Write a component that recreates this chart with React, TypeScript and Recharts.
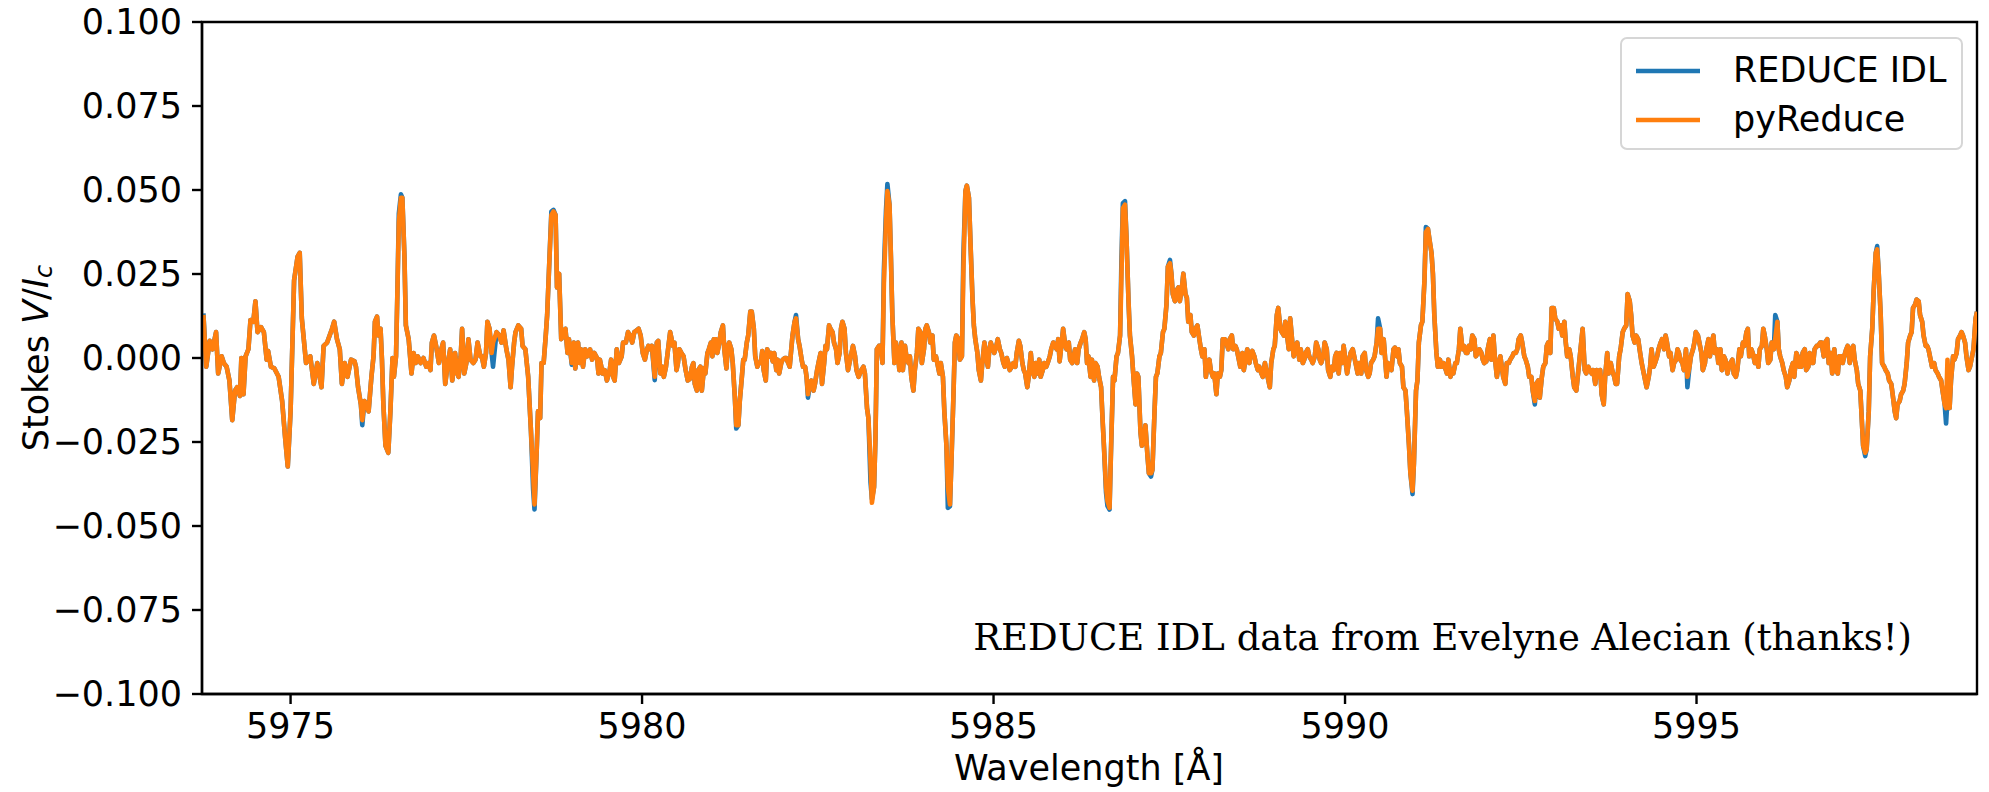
import React from "react";
import { LineChart, Line, XAxis, YAxis, ReferenceArea, Legend, Customized } from "recharts";

// wavelength grid (Å)
const wavelength = [
  5973.76, 5973.80, 5973.85, 5973.89, 5973.94, 5973.97, 5974.02, 5974.05, 5974.09, 5974.13,
  5974.17, 5974.21, 5974.24, 5974.28, 5974.30, 5974.33, 5974.36, 5974.40, 5974.43, 5974.47,
  5974.50, 5974.53, 5974.58, 5974.62, 5974.66, 5974.68, 5974.72, 5974.77, 5974.83, 5974.88,
  5974.92, 5974.96, 5975.00, 5975.05, 5975.10, 5975.13, 5975.16, 5975.22, 5975.28, 5975.33,
  5975.38, 5975.44, 5975.47, 5975.52, 5975.59, 5975.62, 5975.66, 5975.70, 5975.73, 5975.77,
  5975.81, 5975.86, 5975.91, 5975.93, 5975.96, 5976.00, 5976.02, 5976.05, 5976.08, 5976.11,
  5976.15, 5976.18, 5976.20, 5976.23, 5976.25, 5976.28, 5976.30, 5976.32, 5976.35, 5976.39,
  5976.42, 5976.45, 5976.47, 5976.50, 5976.52, 5976.54, 5976.57, 5976.59, 5976.62, 5976.64,
  5976.68, 5976.72, 5976.75, 5976.78, 5976.81, 5976.85, 5976.89, 5976.93, 5976.96, 5976.99,
  5977.01, 5977.04, 5977.07, 5977.11, 5977.13, 5977.17, 5977.20, 5977.23, 5977.27, 5977.30,
  5977.34, 5977.37, 5977.39, 5977.42, 5977.44, 5977.47, 5977.50, 5977.53, 5977.56, 5977.60,
  5977.63, 5977.66, 5977.70, 5977.72, 5977.75, 5977.78, 5977.80, 5977.83, 5977.86, 5977.88,
  5977.93, 5977.97, 5978.00, 5978.03, 5978.07, 5978.10, 5978.13, 5978.15, 5978.18, 5978.20,
  5978.24, 5978.28, 5978.30, 5978.34, 5978.38, 5978.40, 5978.42, 5978.45, 5978.47, 5978.50,
  5978.52, 5978.55, 5978.57, 5978.60, 5978.63, 5978.65, 5978.68, 5978.71, 5978.74, 5978.77,
  5978.79, 5978.82, 5978.85, 5978.88, 5978.91, 5978.94, 5978.96, 5979.00, 5979.03, 5979.05,
  5979.09, 5979.11, 5979.13, 5979.16, 5979.19, 5979.22, 5979.26, 5979.29, 5979.32, 5979.36,
  5979.38, 5979.40, 5979.44, 5979.47, 5979.50, 5979.54, 5979.56, 5979.59, 5979.61, 5979.64,
  5979.67, 5979.71, 5979.73, 5979.77, 5979.80, 5979.83, 5979.86, 5979.89, 5979.92, 5979.95,
  5979.98, 5980.01,
  5980.04, 5980.07, 5980.09, 5980.12, 5980.14, 5980.18, 5980.21, 5980.23, 5980.26, 5980.29,
  5980.31, 5980.34, 5980.37, 5980.40, 5980.44, 5980.46, 5980.49, 5980.51, 5980.53, 5980.56,
  5980.59, 5980.62, 5980.65, 5980.68, 5980.71, 5980.73, 5980.75, 5980.78, 5980.80, 5980.83,
  5980.85, 5980.88, 5980.90, 5980.93, 5980.95, 5980.98, 5981.00, 5981.02, 5981.05, 5981.07,
  5981.10, 5981.12, 5981.15, 5981.17, 5981.20, 5981.22, 5981.24, 5981.27, 5981.29, 5981.32,
  5981.34, 5981.37, 5981.39, 5981.42, 5981.44, 5981.46, 5981.49, 5981.51, 5981.54, 5981.56,
  5981.59, 5981.61, 5981.64, 5981.66, 5981.69, 5981.71, 5981.73, 5981.76, 5981.78, 5981.81,
  5981.83, 5981.86, 5981.88, 5981.91, 5981.93, 5981.95, 5981.98, 5982.00, 5982.03, 5982.05,
  5982.08, 5982.10,
  5982.14, 5982.17, 5982.19, 5982.22, 5982.24, 5982.27, 5982.29, 5982.32, 5982.34, 5982.36,
  5982.39, 5982.41, 5982.44, 5982.46, 5982.49, 5982.51, 5982.54, 5982.56, 5982.59, 5982.61,
  5982.63, 5982.66, 5982.68, 5982.71, 5982.73, 5982.76, 5982.78, 5982.81, 5982.83, 5982.85,
  5982.88, 5982.90, 5982.93, 5982.95, 5982.98, 5983.00, 5983.03, 5983.05, 5983.08, 5983.10,
  5983.12, 5983.15, 5983.17, 5983.20, 5983.22, 5983.25, 5983.27, 5983.30, 5983.32, 5983.34,
  5983.37, 5983.39, 5983.42, 5983.44, 5983.47, 5983.49, 5983.52, 5983.54, 5983.56, 5983.59,
  5983.61, 5983.64, 5983.66, 5983.69, 5983.71, 5983.74, 5983.76, 5983.79, 5983.81, 5983.83,
  5983.86, 5983.88, 5983.91, 5983.93, 5983.96, 5983.98, 5984.01, 5984.03, 5984.05, 5984.08,
  5984.10, 5984.13, 5984.15, 5984.18, 5984.20, 5984.23,
  5984.25, 5984.28, 5984.30, 5984.33, 5984.35, 5984.38, 5984.40, 5984.43, 5984.45, 5984.47,
  5984.50, 5984.52, 5984.55, 5984.57, 5984.60, 5984.62, 5984.65, 5984.67, 5984.70, 5984.72,
  5984.74, 5984.77, 5984.79, 5984.82, 5984.84, 5984.87, 5984.89, 5984.92, 5984.94, 5984.96,
  5984.99, 5985.01, 5985.04, 5985.06, 5985.09, 5985.11, 5985.14, 5985.16, 5985.19, 5985.21,
  5985.23, 5985.26, 5985.28, 5985.31, 5985.33, 5985.36, 5985.38, 5985.41, 5985.43, 5985.45,
  5985.48, 5985.50, 5985.53, 5985.55, 5985.58, 5985.60, 5985.63, 5985.65, 5985.67, 5985.70,
  5985.72, 5985.75, 5985.77, 5985.80, 5985.82, 5985.85, 5985.87, 5985.90, 5985.92, 5985.94,
  5985.97, 5985.99, 5986.02, 5986.04, 5986.07, 5986.09, 5986.12, 5986.14, 5986.16, 5986.19,
  5986.21, 5986.24, 5986.26, 5986.29, 5986.31,
  5986.33, 5986.35, 5986.38, 5986.40, 5986.43, 5986.45, 5986.48, 5986.50, 5986.53, 5986.55,
  5986.57, 5986.60, 5986.62, 5986.65, 5986.67, 5986.70, 5986.72, 5986.75, 5986.77, 5986.80,
  5986.82, 5986.84, 5986.87, 5986.89, 5986.92, 5986.94, 5986.97, 5986.99, 5987.02, 5987.04,
  5987.06, 5987.09, 5987.11, 5987.14, 5987.16, 5987.19, 5987.21, 5987.24, 5987.26, 5987.29,
  5987.31, 5987.33, 5987.36, 5987.38, 5987.41, 5987.43, 5987.46, 5987.48, 5987.51, 5987.53,
  5987.55, 5987.58, 5987.60, 5987.63, 5987.65, 5987.68, 5987.70, 5987.73, 5987.75, 5987.77,
  5987.80, 5987.82, 5987.85, 5987.87, 5987.90, 5987.92, 5987.95, 5987.97, 5988.00, 5988.02,
  5988.04, 5988.07, 5988.09, 5988.12, 5988.14, 5988.17, 5988.19, 5988.22, 5988.24, 5988.26,
  5988.29, 5988.31, 5988.34, 5988.36, 5988.39, 5988.41, 5988.44,
  5988.46, 5988.49, 5988.51, 5988.54, 5988.56, 5988.59, 5988.61, 5988.64, 5988.66, 5988.68,
  5988.71, 5988.73, 5988.76, 5988.78, 5988.81, 5988.83, 5988.86, 5988.88, 5988.91, 5988.93,
  5988.95, 5988.98, 5989.00, 5989.03, 5989.05, 5989.08, 5989.10, 5989.13, 5989.15, 5989.17,
  5989.20, 5989.22, 5989.25, 5989.27, 5989.30, 5989.32, 5989.35, 5989.37, 5989.40, 5989.42,
  5989.44, 5989.47, 5989.49, 5989.52, 5989.54, 5989.57, 5989.59, 5989.62, 5989.64, 5989.66,
  5989.69, 5989.71, 5989.74, 5989.76, 5989.79, 5989.81, 5989.84, 5989.86, 5989.88, 5989.91,
  5989.93, 5989.96, 5989.98, 5990.01, 5990.03, 5990.06, 5990.08, 5990.11, 5990.13, 5990.15,
  5990.18, 5990.20, 5990.23, 5990.25, 5990.28, 5990.30, 5990.33, 5990.35, 5990.37, 5990.40,
  5990.42, 5990.45, 5990.47, 5990.50, 5990.52, 5990.55,
  5990.59, 5990.61, 5990.64, 5990.66, 5990.69, 5990.71, 5990.74, 5990.76, 5990.78, 5990.81,
  5990.83, 5990.86, 5990.88, 5990.91, 5990.93, 5990.96, 5990.98, 5991.01, 5991.03, 5991.05,
  5991.08, 5991.10, 5991.13, 5991.15, 5991.18, 5991.20, 5991.23, 5991.25, 5991.27, 5991.30,
  5991.32, 5991.35, 5991.37, 5991.40, 5991.42, 5991.45, 5991.47, 5991.50, 5991.52, 5991.54,
  5991.57, 5991.59, 5991.62, 5991.64, 5991.67, 5991.69, 5991.72, 5991.74, 5991.76, 5991.79,
  5991.81, 5991.84, 5991.86, 5991.89, 5991.91, 5991.94, 5991.96, 5991.98, 5992.01, 5992.03,
  5992.06, 5992.08, 5992.11, 5992.13, 5992.16, 5992.18, 5992.21, 5992.23, 5992.25, 5992.28,
  5992.30, 5992.33, 5992.35, 5992.38, 5992.40, 5992.43, 5992.45, 5992.47, 5992.50, 5992.52,
  5992.55, 5992.57, 5992.60, 5992.62, 5992.65,
  5992.67, 5992.70, 5992.72, 5992.75, 5992.77, 5992.80, 5992.82, 5992.85, 5992.87, 5992.89,
  5992.92, 5992.94, 5992.97, 5992.99, 5993.02, 5993.04, 5993.07, 5993.09, 5993.12, 5993.14,
  5993.16, 5993.19, 5993.21, 5993.24, 5993.26, 5993.29, 5993.31, 5993.34, 5993.36, 5993.38,
  5993.41, 5993.43, 5993.46, 5993.48, 5993.51, 5993.53, 5993.56, 5993.58, 5993.61, 5993.63,
  5993.65, 5993.68, 5993.70, 5993.73, 5993.75, 5993.78, 5993.80, 5993.83, 5993.85, 5993.87,
  5993.90, 5993.92, 5993.95, 5993.97, 5994.00, 5994.02, 5994.05, 5994.07, 5994.09, 5994.12,
  5994.14, 5994.17, 5994.19, 5994.22, 5994.24, 5994.27, 5994.29, 5994.32, 5994.34, 5994.36,
  5994.39, 5994.41, 5994.44, 5994.46, 5994.49, 5994.51, 5994.54, 5994.56, 5994.58, 5994.61,
  5994.63, 5994.66, 5994.68, 5994.71, 5994.73,
  5994.75, 5994.77, 5994.80, 5994.82, 5994.85, 5994.87, 5994.90, 5994.92, 5994.95, 5994.97,
  5994.99, 5995.02, 5995.04, 5995.07, 5995.09, 5995.12, 5995.14, 5995.17, 5995.19, 5995.22,
  5995.24, 5995.26, 5995.29, 5995.31, 5995.34, 5995.36, 5995.39, 5995.41, 5995.44, 5995.46,
  5995.48, 5995.51, 5995.53, 5995.56, 5995.58, 5995.61, 5995.63, 5995.66, 5995.68, 5995.71,
  5995.73, 5995.75, 5995.78, 5995.80, 5995.83, 5995.85, 5995.88, 5995.90, 5995.93, 5995.95,
  5995.97, 5996.00, 5996.02, 5996.05, 5996.07, 5996.10, 5996.12, 5996.15, 5996.17, 5996.19,
  5996.22, 5996.24, 5996.27, 5996.29, 5996.32, 5996.34, 5996.37, 5996.39, 5996.42, 5996.44,
  5996.46, 5996.49, 5996.51, 5996.54, 5996.56, 5996.59, 5996.61, 5996.64, 5996.66, 5996.68,
  5996.71, 5996.73, 5996.76, 5996.78, 5996.81, 5996.83, 5996.86,
  5996.88, 5996.91, 5996.93, 5996.96, 5996.98, 5997.01, 5997.03, 5997.06, 5997.08, 5997.10,
  5997.13, 5997.15, 5997.18, 5997.20, 5997.23, 5997.25, 5997.28, 5997.30, 5997.33, 5997.35,
  5997.37, 5997.40, 5997.42, 5997.45, 5997.47, 5997.50, 5997.52, 5997.55, 5997.57, 5997.59,
  5997.62, 5997.64, 5997.67, 5997.69, 5997.72, 5997.74, 5997.77, 5997.79, 5997.82, 5997.84,
  5997.86, 5997.89, 5997.91, 5997.94, 5997.96, 5997.99, 5998.01, 5998.04, 5998.06, 5998.08,
  5998.11, 5998.13, 5998.16, 5998.18, 5998.21, 5998.23, 5998.26, 5998.28, 5998.30, 5998.33,
  5998.35, 5998.38, 5998.40, 5998.43, 5998.45, 5998.48, 5998.50, 5998.53, 5998.55, 5998.57,
  5998.60, 5998.62, 5998.65, 5998.67, 5998.70, 5998.72, 5998.75, 5998.77, 5998.79, 5998.82,
  5998.84, 5998.87, 5998.89, 5998.92, 5998.94, 5998.97, 5998.99,
];

// Stokes V/Ic, REDUCE IDL reduction
const reduceIdl = [
  0.0133, -0.0026, 0.0051, 0.0026, 0.0077, -0.0046, 0.0005, -0.0015, -0.0026, -0.0067,
  -0.0185, -0.0097, -0.0087, -0.0113, 0.0000, -0.0108, 0.0005, 0.0026, 0.0113, 0.0108,
  0.0169, 0.0077, 0.0092, 0.0077, -0.0005, 0.0021, -0.0026, -0.0031, -0.0056, -0.0128,
  -0.0231, -0.0323, -0.0159, 0.0231, 0.0302, 0.0313, 0.0118, -0.0015, 0.0005, -0.0077,
  -0.0015, -0.0087, 0.0036, 0.0046, 0.0087, 0.0108, 0.0056, 0.0026, -0.0077, -0.0015,
  -0.0056, -0.0005, -0.0010, -0.0026, -0.0087, -0.0138, -0.0200, -0.0128, -0.0138, -0.0159,
  -0.0056, 0.0005, 0.0108, 0.0123, 0.0067, 0.0087, -0.0005, -0.0138, -0.0261, -0.0282,
  -0.0159, 0.0000, -0.0056, 0.0005, 0.0200, 0.0430, 0.0487, 0.0477, 0.0302, 0.0097,
  0.0056, -0.0046, 0.0015, -0.0015, 0.0005, -0.0015, 0.0000, -0.0026, -0.0015, -0.0036,
  0.0046, 0.0067, 0.0036, -0.0015, 0.0015, 0.0046, -0.0077, -0.0026, 0.0026, -0.0067,
  0.0015, -0.0046, -0.0056, 0.0005, 0.0087, -0.0046, -0.0015, 0.0056, -0.0005, -0.0015,
  -0.0005, 0.0046, 0.0005, 0.0005, -0.0026, 0.0015, 0.0108, 0.0087, 0.0015, -0.0026,
  0.0077, 0.0067, 0.0046, 0.0082, 0.0026, -0.0005, -0.0087, -0.0026, 0.0046, 0.0077,
  0.0097, 0.0087, 0.0036, 0.0026, -0.0056, -0.0138, -0.0220, -0.0390, -0.0451, -0.0282,
  -0.0159, -0.0179, -0.0015, -0.0015, 0.0067, 0.0128, 0.0282, 0.0436, 0.0441, 0.0425,
  0.0210, 0.0251, 0.0056, 0.0067, 0.0087, 0.0015, 0.0056, -0.0020, 0.0046, -0.0031,
  0.0046, -0.0015, 0.0026, -0.0026, 0.0026, 0.0005, 0.0026, -0.0005, 0.0015, 0.0000,
  -0.0046, -0.0005, -0.0046, -0.0036, -0.0067, -0.0036, -0.0005, -0.0056, -0.0067, 0.0026,
  -0.0015, 0.0005, 0.0046, 0.0046, 0.0077, 0.0067, 0.0046, 0.0077, 0.0082, 0.0087,
  0.0067, 0.0015,
  -0.0005, 0.0026, 0.0036, 0.0026, 0.0036, -0.0066, 0.0046, 0.0051, -0.0046, -0.0026,
  -0.0056, -0.0026, 0.0026, 0.0077, 0.0036, 0.0046, -0.0036, -0.0015, 0.0026, 0.0015,
  0.0005, -0.0036, -0.0067, -0.0062, -0.0026, -0.0015, -0.0077, -0.0097, -0.0036, -0.0026,
  -0.0097, -0.0031, -0.0046, 0.0015, 0.0026, 0.0046, 0.0005, 0.0056, 0.0056, 0.0015,
  0.0046, 0.0077, 0.0097, 0.0026, -0.0031, 0.0036, 0.0046, 0.0026, -0.0015, -0.0118,
  -0.0210, -0.0200, -0.0128, -0.0056, -0.0005, -0.0005, 0.0046, 0.0067, 0.0138, 0.0138,
  0.0087, 0.0005, -0.0026, -0.0015, -0.0015, 0.0021, -0.0036, -0.0067, 0.0026, 0.0005,
  0.0015, -0.0010, 0.0015, -0.0036, -0.0005, -0.0046, -0.0015, -0.0005, 0.0000, 0.0000,
  -0.0015, -0.0026,
  0.0067, 0.0108, 0.0128, 0.0056, 0.0036, -0.0005, -0.0026, -0.0026, -0.0056, -0.0118,
  -0.0077, -0.0067, -0.0097, -0.0077, -0.0036, -0.0015, 0.0015, -0.0077, -0.0015, 0.0036,
  0.0026, 0.0097, 0.0087, 0.0077, 0.0046, 0.0026, -0.0015, 0.0015, 0.0087, 0.0108,
  0.0087, 0.0015, -0.0036, -0.0015, 0.0015, 0.0036, 0.0005, -0.0036, -0.0056, -0.0046,
  -0.0036, -0.0026, -0.0046, -0.0149, -0.0179, -0.0370, -0.0420, -0.0384, -0.0241, 0.0026,
  0.0036, 0.0036, -0.0015, 0.0260, 0.0440, 0.0518, 0.0456, 0.0302, 0.0128, -0.0015,
  0.0046, 0.0015, -0.0036, 0.0046, -0.0036, 0.0036, 0.0005, -0.0015, 0.0005, -0.0056,
  -0.0097, -0.0036, 0.0015, 0.0087, 0.0077, -0.0015, 0.0026, 0.0087, 0.0097, 0.0077,
  0.0046, 0.0067, -0.0005, 0.0005, -0.0015, -0.0046,
  -0.0015, -0.0056, -0.0159, -0.0261, -0.0446, -0.0441, -0.0313, -0.0108, 0.0046, 0.0067,
  0.0056, -0.0005, 0.0005, 0.0300, 0.0497, 0.0513, 0.0477, 0.0354, 0.0179, 0.0097,
  0.0056, 0.0015, -0.0036, -0.0067, -0.0015, 0.0046, 0.0005, -0.0026, 0.0026, 0.0046,
  0.0026, 0.0015, 0.0036, 0.0056, 0.0026, 0.0015, -0.0015, -0.0026, 0.0000, -0.0015,
  -0.0036, -0.0026, -0.0015, -0.0026, 0.0015, 0.0051, 0.0036, -0.0015, -0.0036, -0.0046,
  -0.0087, -0.0056, 0.0015, -0.0036, -0.0056, -0.0015, -0.0046, -0.0005, -0.0056, -0.0036,
  -0.0015, -0.0026, -0.0015, 0.0005, 0.0026, 0.0046, 0.0036, 0.0026, 0.0056, -0.0010,
  0.0046, 0.0087, 0.0036, 0.0026, 0.0046, -0.0005, -0.0015, 0.0005, 0.0026, -0.0015,
  0.0026, 0.0046, 0.0056, 0.0077, 0.0056,
  -0.0015, 0.0005, -0.0056, -0.0005, -0.0067, -0.0015, -0.0026, -0.0056, -0.0087, -0.0179,
  -0.0261, -0.0400, -0.0440, -0.0451, -0.0282, -0.0056, -0.0067, 0.0005, 0.0015, 0.0067,
  0.0300, 0.0461, 0.0467, 0.0364, 0.0169, 0.0067, 0.0005, -0.0056, -0.0138, -0.0046,
  -0.0056, -0.0220, -0.0261, -0.0241, -0.0200, -0.0292, -0.0343, -0.0353, -0.0333, -0.0159,
  -0.0056, -0.0046, 0.0005, 0.0015, 0.0077, 0.0087, 0.0159, 0.0272, 0.0292, 0.0251,
  0.0190, 0.0169, 0.0200, 0.0210, 0.0169, 0.0210, 0.0251, 0.0190, 0.0179, 0.0108,
  0.0128, 0.0077, 0.0067, 0.0087, 0.0097, 0.0067, 0.0026, 0.0005, 0.0026, -0.0056,
  -0.0026, -0.0005, -0.0036, -0.0056, -0.0046, -0.0108, -0.0046, -0.0056, -0.0036, 0.0056,
  0.0056, 0.0046, 0.0026, 0.0056, 0.0067, 0.0026, 0.0036,
  0.0026, -0.0005, -0.0026, 0.0015, -0.0036, 0.0005, 0.0026, -0.0015, 0.0015, 0.0021,
  0.0005, -0.0015, -0.0036, -0.0026, -0.0046, -0.0056, -0.0015, -0.0036, -0.0067, -0.0087,
  -0.0015, 0.0026, 0.0036, 0.0128, 0.0149, 0.0087, 0.0077, 0.0067, 0.0108, 0.0077,
  0.0026, 0.0118, 0.0046, 0.0005, 0.0036, 0.0046, -0.0005, 0.0026, -0.0015, -0.0005,
  0.0015, 0.0026, 0.0005, -0.0005, -0.0015, 0.0005, 0.0046, 0.0026, -0.0005, -0.0015,
  0.0005, 0.0046, 0.0026, -0.0036, -0.0056, -0.0026, -0.0036, 0.0005, 0.0015, -0.0046,
  0.0015, -0.0015, 0.0036, -0.0015, -0.0046, -0.0005, 0.0015, 0.0026, 0.0005, -0.0015,
  -0.0046, -0.0015, -0.0046, 0.0005, 0.0015, -0.0036, -0.0056, -0.0046, -0.0015, -0.0005,
  0.0005, 0.0046, 0.0118, 0.0087, 0.0015, 0.0056,
  -0.0056, -0.0015, -0.0026, -0.0036, 0.0026, 0.0031, 0.0005, 0.0026, -0.0015, -0.0026,
  -0.0087, -0.0097, -0.0159, -0.0261, -0.0343, -0.0405, -0.0313, -0.0097, -0.0067, 0.0046,
  0.0097, 0.0108, 0.0231, 0.0390, 0.0384, 0.0354, 0.0313, 0.0251, 0.0128, 0.0015,
  -0.0026, -0.0005, -0.0026, -0.0015, -0.0026, -0.0046, -0.0005, -0.0056, -0.0036, -0.0046,
  -0.0015, -0.0015, 0.0026, 0.0087, 0.0026, 0.0036, 0.0015, 0.0015, 0.0036, 0.0026,
  0.0067, 0.0056, 0.0005, 0.0015, 0.0026, 0.0015, -0.0005, -0.0015, -0.0010, 0.0026,
  0.0056, -0.0005, 0.0067, 0.0005, -0.0056, -0.0026, 0.0005, -0.0026, -0.0056, -0.0077,
  -0.0015, -0.0015, -0.0005, 0.0005, 0.0015, 0.0015, 0.0026, 0.0056, 0.0067, 0.0046,
  0.0005, -0.0005, -0.0026, -0.0056, -0.0056,
  -0.0097, -0.0138, -0.0077, -0.0067, -0.0118, -0.0056, -0.0026, -0.0015, 0.0036, 0.0046,
  0.0015, 0.0149, 0.0149, 0.0118, 0.0108, 0.0087, 0.0097, 0.0067, 0.0108, 0.0046,
  0.0005, 0.0026, 0.0005, -0.0056, -0.0087, -0.0097, -0.0056, 0.0005, 0.0046, 0.0087,
  -0.0036, -0.0046, -0.0026, -0.0036, -0.0046, -0.0036, -0.0077, -0.0036, -0.0056, -0.0036,
  -0.0108, -0.0138, -0.0056, 0.0015, -0.0046, -0.0015, -0.0036, -0.0056, -0.0077, -0.0077,
  0.0005, 0.0026, 0.0077, 0.0087, 0.0097, 0.0190, 0.0169, 0.0128, 0.0067, 0.0046,
  0.0067, 0.0056, 0.0026, -0.0015, -0.0036, -0.0067, -0.0087, -0.0056, -0.0026, 0.0026,
  -0.0026, -0.0015, 0.0005, 0.0026, 0.0046, 0.0056, 0.0026, 0.0067, 0.0046, 0.0005,
  0.0015, -0.0036, -0.0015, -0.0005, 0.0026,
  0.0015, -0.0005, -0.0015, -0.0036, 0.0026, -0.0087, -0.0026, 0.0005, 0.0026, 0.0046,
  0.0077, 0.0067, 0.0046, 0.0015, -0.0036, -0.0015, 0.0026, 0.0056, 0.0005, 0.0046,
  0.0067, 0.0015, 0.0026, -0.0015, 0.0026, -0.0036, 0.0005, -0.0005, -0.0046, -0.0026,
  -0.0015, -0.0005, -0.0046, -0.0056, -0.0036, 0.0026, 0.0005, 0.0046, 0.0036, 0.0077,
  0.0087, 0.0005, 0.0026, 0.0015, -0.0015, 0.0005, -0.0026, 0.0026, 0.0036, 0.0087,
  0.0067, 0.0026, -0.0015, -0.0005, 0.0046, 0.0026, 0.0128, 0.0108, 0.0026, 0.0005,
  -0.0015, -0.0036, -0.0056, -0.0087, -0.0067, -0.0036, -0.0015, -0.0056, 0.0015, 0.0005,
  -0.0026, -0.0026, 0.0015, 0.0026, -0.0036, -0.0026, 0.0015, -0.0015, -0.0015, 0.0026,
  0.0036, 0.0036, 0.0046, 0.0046, 0.0005, 0.0046, 0.0056,
  -0.0015, 0.0015, -0.0046, 0.0026, -0.0036, -0.0046, 0.0005, 0.0005, -0.0015, 0.0005,
  0.0026, 0.0036, -0.0015, 0.0026, 0.0036, -0.0005, -0.0036, -0.0077, -0.0097, -0.0179,
  -0.0261, -0.0292, -0.0272, -0.0159, 0.0005, 0.0087, 0.0200, 0.0313, 0.0333, 0.0261,
  0.0128, -0.0015, -0.0026, -0.0036, -0.0046, -0.0067, -0.0077, -0.0108, -0.0159, -0.0179,
  -0.0138, -0.0128, -0.0108, -0.0097, -0.0077, -0.0015, 0.0046, 0.0067, 0.0077, 0.0149,
  0.0159, 0.0174, 0.0169, 0.0128, 0.0108, 0.0067, 0.0036, 0.0036, 0.0026, -0.0005,
  -0.0026, -0.0015, -0.0036, -0.0046, -0.0056, -0.0067, -0.0097, -0.0138, -0.0195, -0.0120,
  -0.0149, -0.0067, 0.0005, -0.0005, 0.0015, 0.0056, 0.0067, 0.0077, 0.0067, 0.0046,
  0.0005, -0.0036, -0.0026, 0.0005, 0.0026, 0.0118, 0.0138,
];

// Stokes V/Ic, pyReduce reduction
const pyReduce = [
  0.0128, -0.0026, 0.0051, 0.0026, 0.0077, -0.0046, 0.0005, -0.0015, -0.0026, -0.0067,
  -0.0185, -0.0097, -0.0087, -0.0113, 0.0000, -0.0108, 0.0005, 0.0026, 0.0113, 0.0108,
  0.0169, 0.0077, 0.0092, 0.0077, -0.0005, 0.0021, -0.0026, -0.0031, -0.0056, -0.0128,
  -0.0231, -0.0323, -0.0159, 0.0231, 0.0302, 0.0313, 0.0118, -0.0015, 0.0005, -0.0077,
  -0.0015, -0.0087, 0.0036, 0.0046, 0.0087, 0.0108, 0.0056, 0.0026, -0.0077, -0.0015,
  -0.0056, -0.0005, -0.0010, -0.0026, -0.0087, -0.0138, -0.0185, -0.0128, -0.0138, -0.0159,
  -0.0056, 0.0005, 0.0108, 0.0123, 0.0067, 0.0087, -0.0005, -0.0138, -0.0261, -0.0282,
  -0.0159, 0.0000, -0.0056, 0.0005, 0.0200, 0.0405, 0.0477, 0.0477, 0.0302, 0.0097,
  0.0056, -0.0046, 0.0015, -0.0015, 0.0005, -0.0015, 0.0000, -0.0026, -0.0015, -0.0036,
  0.0046, 0.0067, 0.0036, -0.0015, 0.0015, 0.0046, -0.0077, -0.0026, 0.0026, -0.0067,
  0.0015, -0.0046, -0.0056, 0.0005, 0.0087, -0.0046, -0.0015, 0.0056, -0.0005, -0.0015,
  -0.0005, 0.0046, 0.0005, 0.0005, -0.0026, 0.0015, 0.0108, 0.0087, 0.0015, 0.0046,
  0.0077, 0.0067, 0.0046, 0.0082, 0.0026, -0.0005, -0.0087, -0.0026, 0.0046, 0.0077,
  0.0097, 0.0087, 0.0036, 0.0026, -0.0056, -0.0138, -0.0220, -0.0343, -0.0436, -0.0282,
  -0.0159, -0.0179, -0.0015, -0.0015, 0.0067, 0.0128, 0.0282, 0.0425, 0.0436, 0.0425,
  0.0210, 0.0251, 0.0056, 0.0067, 0.0087, 0.0015, 0.0056, -0.0015, 0.0046, -0.0031,
  0.0046, -0.0015, 0.0026, -0.0026, 0.0026, 0.0005, 0.0026, -0.0005, 0.0015, 0.0000,
  -0.0046, -0.0005, -0.0046, -0.0036, -0.0067, -0.0036, -0.0005, -0.0056, -0.0067, 0.0026,
  -0.0015, 0.0005, 0.0046, 0.0046, 0.0077, 0.0067, 0.0046, 0.0077, 0.0082, 0.0087,
  0.0067, 0.0015,
  -0.0005, 0.0026, 0.0036, 0.0026, 0.0036, -0.0056, 0.0046, 0.0051, -0.0046, -0.0026,
  -0.0056, -0.0026, 0.0026, 0.0077, 0.0036, 0.0046, -0.0036, -0.0015, 0.0026, 0.0015,
  0.0005, -0.0036, -0.0067, -0.0062, -0.0026, -0.0015, -0.0077, -0.0097, -0.0036, -0.0026,
  -0.0097, -0.0031, -0.0046, 0.0015, 0.0026, 0.0046, 0.0005, 0.0056, 0.0056, 0.0015,
  0.0046, 0.0077, 0.0097, 0.0026, -0.0031, 0.0036, 0.0046, 0.0026, -0.0015, -0.0118,
  -0.0200, -0.0200, -0.0128, -0.0056, -0.0005, -0.0005, 0.0046, 0.0067, 0.0138, 0.0138,
  0.0087, 0.0005, -0.0026, -0.0015, -0.0015, 0.0021, -0.0036, -0.0067, 0.0026, 0.0005,
  0.0015, -0.0010, 0.0015, -0.0036, -0.0005, -0.0046, -0.0015, -0.0005, 0.0000, 0.0000,
  -0.0015, -0.0026,
  0.0067, 0.0108, 0.0118, 0.0056, 0.0036, -0.0005, -0.0026, -0.0026, -0.0056, -0.0108,
  -0.0077, -0.0067, -0.0097, -0.0077, -0.0036, -0.0015, 0.0015, -0.0077, -0.0015, 0.0036,
  0.0026, 0.0097, 0.0087, 0.0077, 0.0046, 0.0026, -0.0015, 0.0015, 0.0087, 0.0108,
  0.0087, 0.0015, -0.0036, -0.0015, 0.0015, 0.0036, 0.0005, -0.0036, -0.0056, -0.0046,
  -0.0036, -0.0026, -0.0046, -0.0149, -0.0179, -0.0313, -0.0431, -0.0384, -0.0241, 0.0026,
  0.0036, 0.0036, -0.0015, 0.0220, 0.0405, 0.0497, 0.0456, 0.0302, 0.0128, -0.0015,
  0.0046, 0.0015, -0.0036, 0.0046, -0.0036, 0.0036, 0.0005, -0.0015, 0.0005, -0.0056,
  -0.0097, -0.0036, 0.0015, 0.0087, 0.0077, -0.0015, 0.0026, 0.0087, 0.0097, 0.0077,
  0.0046, 0.0067, -0.0005, 0.0005, -0.0015, -0.0046,
  -0.0015, -0.0056, -0.0159, -0.0261, -0.0384, -0.0436, -0.0313, -0.0108, 0.0046, 0.0067,
  0.0056, -0.0005, 0.0005, 0.0251, 0.0497, 0.0513, 0.0477, 0.0354, 0.0179, 0.0097,
  0.0056, 0.0015, -0.0036, -0.0067, -0.0015, 0.0046, 0.0005, -0.0026, 0.0026, 0.0046,
  0.0026, 0.0015, 0.0036, 0.0056, 0.0026, 0.0015, -0.0015, -0.0026, 0.0000, -0.0015,
  -0.0036, -0.0026, -0.0015, -0.0026, 0.0015, 0.0051, 0.0036, -0.0015, -0.0036, -0.0046,
  -0.0087, -0.0056, 0.0015, -0.0036, -0.0056, -0.0015, -0.0046, -0.0005, -0.0056, -0.0036,
  -0.0015, -0.0026, -0.0015, 0.0005, 0.0026, 0.0046, 0.0036, 0.0026, 0.0056, -0.0010,
  0.0046, 0.0087, 0.0036, 0.0026, 0.0046, -0.0005, -0.0015, 0.0005, 0.0026, -0.0015,
  0.0026, 0.0046, 0.0056, 0.0077, 0.0056,
  -0.0015, 0.0005, -0.0056, -0.0005, -0.0067, -0.0015, -0.0026, -0.0056, -0.0087, -0.0179,
  -0.0261, -0.0384, -0.0425, -0.0446, -0.0282, -0.0056, -0.0067, 0.0005, 0.0015, 0.0067,
  0.0251, 0.0446, 0.0456, 0.0364, 0.0169, 0.0067, 0.0005, -0.0056, -0.0138, -0.0046,
  -0.0056, -0.0220, -0.0261, -0.0241, -0.0200, -0.0292, -0.0343, -0.0343, -0.0333, -0.0159,
  -0.0056, -0.0046, 0.0005, 0.0015, 0.0077, 0.0087, 0.0159, 0.0272, 0.0282, 0.0251,
  0.0190, 0.0169, 0.0200, 0.0210, 0.0169, 0.0210, 0.0251, 0.0190, 0.0179, 0.0108,
  0.0128, 0.0077, 0.0067, 0.0087, 0.0097, 0.0067, 0.0026, 0.0005, 0.0026, -0.0056,
  -0.0026, -0.0005, -0.0036, -0.0056, -0.0046, -0.0108, -0.0046, -0.0056, -0.0036, 0.0056,
  0.0056, 0.0046, 0.0026, 0.0056, 0.0067, 0.0026, 0.0036,
  0.0026, -0.0005, -0.0026, 0.0015, -0.0036, 0.0005, 0.0026, -0.0015, 0.0015, 0.0021,
  0.0005, -0.0015, -0.0036, -0.0026, -0.0046, -0.0056, -0.0015, -0.0036, -0.0067, -0.0087,
  -0.0015, 0.0026, 0.0036, 0.0128, 0.0149, 0.0087, 0.0077, 0.0067, 0.0108, 0.0077,
  0.0026, 0.0118, 0.0046, 0.0005, 0.0036, 0.0046, -0.0005, 0.0026, -0.0015, -0.0005,
  0.0015, 0.0026, 0.0005, -0.0005, -0.0015, 0.0005, 0.0046, 0.0026, -0.0005, -0.0015,
  0.0005, 0.0046, 0.0026, -0.0036, -0.0056, -0.0026, -0.0036, 0.0005, 0.0015, -0.0046,
  0.0015, -0.0015, 0.0036, -0.0015, -0.0046, -0.0005, 0.0015, 0.0026, 0.0005, -0.0015,
  -0.0046, -0.0015, -0.0046, 0.0005, 0.0015, -0.0036, -0.0056, -0.0046, -0.0015, -0.0005,
  0.0005, 0.0046, 0.0087, 0.0087, 0.0015, 0.0056,
  -0.0056, -0.0015, -0.0026, -0.0036, 0.0026, 0.0031, 0.0005, 0.0026, -0.0015, -0.0026,
  -0.0087, -0.0097, -0.0159, -0.0261, -0.0343, -0.0395, -0.0313, -0.0097, -0.0067, 0.0046,
  0.0097, 0.0108, 0.0231, 0.0374, 0.0384, 0.0354, 0.0313, 0.0251, 0.0128, 0.0015,
  -0.0026, -0.0005, -0.0026, -0.0015, -0.0026, -0.0046, -0.0005, -0.0056, -0.0036, -0.0046,
  -0.0015, -0.0015, 0.0026, 0.0087, 0.0026, 0.0036, 0.0015, 0.0015, 0.0036, 0.0026,
  0.0067, 0.0056, 0.0005, 0.0015, 0.0026, 0.0015, -0.0005, -0.0015, -0.0010, 0.0026,
  0.0056, -0.0005, 0.0067, 0.0005, -0.0056, -0.0026, 0.0005, -0.0026, -0.0056, -0.0077,
  -0.0015, -0.0015, -0.0005, 0.0005, 0.0015, 0.0015, 0.0026, 0.0056, 0.0067, 0.0046,
  0.0005, -0.0005, -0.0026, -0.0056, -0.0056,
  -0.0097, -0.0128, -0.0077, -0.0067, -0.0118, -0.0056, -0.0026, -0.0015, 0.0036, 0.0046,
  0.0015, 0.0149, 0.0149, 0.0118, 0.0108, 0.0087, 0.0097, 0.0067, 0.0108, 0.0046,
  0.0005, 0.0026, 0.0005, -0.0056, -0.0087, -0.0097, -0.0056, 0.0005, 0.0046, 0.0087,
  -0.0036, -0.0046, -0.0026, -0.0036, -0.0046, -0.0036, -0.0077, -0.0036, -0.0056, -0.0036,
  -0.0108, -0.0138, -0.0056, 0.0015, -0.0046, -0.0015, -0.0036, -0.0056, -0.0077, -0.0077,
  0.0005, 0.0026, 0.0077, 0.0087, 0.0097, 0.0190, 0.0169, 0.0128, 0.0067, 0.0046,
  0.0067, 0.0056, 0.0026, -0.0015, -0.0036, -0.0067, -0.0087, -0.0056, -0.0026, 0.0026,
  -0.0026, -0.0015, 0.0005, 0.0026, 0.0046, 0.0056, 0.0026, 0.0067, 0.0046, 0.0005,
  0.0015, -0.0036, -0.0015, -0.0005, 0.0026,
  0.0015, -0.0005, -0.0015, -0.0036, 0.0026, -0.0056, -0.0026, 0.0005, 0.0026, 0.0046,
  0.0077, 0.0067, 0.0046, 0.0015, -0.0036, -0.0015, 0.0026, 0.0056, 0.0005, 0.0046,
  0.0067, 0.0015, 0.0026, -0.0015, 0.0026, -0.0036, 0.0005, -0.0005, -0.0046, -0.0026,
  -0.0015, -0.0005, -0.0046, -0.0056, -0.0036, 0.0026, 0.0005, 0.0046, 0.0036, 0.0077,
  0.0087, 0.0005, 0.0026, 0.0015, -0.0015, 0.0005, -0.0026, 0.0026, 0.0036, 0.0087,
  0.0067, 0.0026, -0.0015, -0.0005, 0.0046, 0.0026, 0.0056, 0.0108, 0.0026, 0.0005,
  -0.0015, -0.0036, -0.0056, -0.0087, -0.0067, -0.0036, -0.0015, -0.0056, 0.0015, 0.0005,
  -0.0026, -0.0026, 0.0015, 0.0026, -0.0036, -0.0026, 0.0015, -0.0015, -0.0015, 0.0026,
  0.0036, 0.0036, 0.0046, 0.0046, 0.0005, 0.0046, 0.0056,
  -0.0015, 0.0015, -0.0046, 0.0026, -0.0036, -0.0046, 0.0005, 0.0005, -0.0015, 0.0005,
  0.0026, 0.0036, -0.0015, 0.0026, 0.0036, -0.0005, -0.0036, -0.0077, -0.0097, -0.0179,
  -0.0261, -0.0282, -0.0272, -0.0159, 0.0005, 0.0087, 0.0200, 0.0313, 0.0323, 0.0261,
  0.0128, -0.0015, -0.0026, -0.0036, -0.0046, -0.0067, -0.0077, -0.0108, -0.0159, -0.0179,
  -0.0138, -0.0128, -0.0108, -0.0097, -0.0077, -0.0015, 0.0046, 0.0067, 0.0077, 0.0149,
  0.0159, 0.0174, 0.0169, 0.0128, 0.0108, 0.0067, 0.0036, 0.0036, 0.0026, -0.0005,
  -0.0026, -0.0015, -0.0036, -0.0046, -0.0056, -0.0067, -0.0097, -0.0138, -0.0149, -0.0005,
  -0.0149, -0.0067, 0.0005, -0.0005, 0.0015, 0.0056, 0.0067, 0.0077, 0.0067, 0.0046,
  0.0005, -0.0036, -0.0026, 0.0005, 0.0026, 0.0118, 0.0138,
];

const seriesNames = ["REDUCE IDL", "pyReduce"];
const seriesColors = ["#1f77b4", "#ff7f0e"];
const xTicks = [5975, 5980, 5985, 5990, 5995];
const yTicks = [-0.1, -0.075, -0.05, -0.025, 0, 0.025, 0.05, 0.075, 0.1];
const xDomain = [5973.74, 5998.99];
const yDomain = [-0.1, 0.1];

const n = Math.min(wavelength.length, reduceIdl.length, pyReduce.length);
const data = wavelength.slice(0, n).map((wl, i) => ({ wl, idl: reduceIdl[i], py: pyReduce[i] }));

const SANS = "DejaVu Sans";
const SERIF = "DejaVu Serif";
const FS = 35;
const LW = 4.6;

const fmtY = (v: number) => {
  const s = Math.abs(v).toFixed(3);
  return v < -1e-9 ? "\u2212" + s : s;
};

const LegendBox = () => (
  <div
    style={{
      boxSizing: "border-box",
      width: 343,
      height: 113,
      border: "2px solid #d6d6d6",
      borderRadius: 7,
      background: "rgba(255,255,255,0.8)",
      padding: "7px 0 0 14px",
      fontFamily: SANS,
      fontSize: FS,
      color: "#000",
    }}
  >
    {seriesNames.map((name, i) => (
      <div key={name} style={{ display: "flex", alignItems: "center", height: 49 }}>
        <svg width={64} height={10} style={{ display: "block" }}>
          <line x1={0} y1={5} x2={64} y2={5} stroke={seriesColors[i]} strokeWidth={LW} />
        </svg>
        <span style={{ marginLeft: 33, lineHeight: 1, whiteSpace: "nowrap" }}>{name}</span>
      </div>
    ))}
  </div>
);

const Titles = () => (
  <g>
    <text x={1089} y={768} textAnchor="middle" dominantBaseline="central" fontFamily={SANS} fontSize={FS} fill="#000">
      Wavelength [Å]
    </text>
    <text transform="translate(36,358) rotate(-90)" textAnchor="middle" dominantBaseline="central" fontFamily={SANS} fontSize={FS} fill="#000">
      {"Stokes "}
      <tspan fontStyle="italic">V</tspan>
      {"/"}
      <tspan fontStyle="italic">I</tspan>
      <tspan fontStyle="italic" fontSize={24} dy={8}>c</tspan>
    </text>
    <text x={1912} y={650} textAnchor="end" fontFamily={SERIF} fontSize={37} fill="#000">
      REDUCE IDL data from Evelyne Alecian (thanks!)
    </text>
  </g>
);

export default function App() {
  return (
    <div style={{ position: "absolute", left: 0, top: 0, width: 1989, height: 792, background: "#fff" }}>
      <LineChart width={1989} height={792} data={data} margin={{ top: 22, right: 12, left: 0, bottom: 0 }}>
        <XAxis
          dataKey="wl"
          type="number"
          domain={xDomain}
          ticks={xTicks}
          interval={0}
          allowDataOverflow
          height={98}
          tickSize={10}
          tickMargin={9}
          tick={{ fill: "#000", fontSize: FS, fontFamily: SANS }}
          axisLine={{ stroke: "#000", strokeWidth: 2.4 }}
          tickLine={{ stroke: "#000", strokeWidth: 2.4 }}
        />
        <YAxis
          type="number"
          domain={yDomain}
          ticks={yTicks}
          interval={0}
          allowDataOverflow
          width={202}
          tickSize={10}
          tickMargin={10}
          tickFormatter={fmtY}
          tick={{ fill: "#000", fontSize: FS, fontFamily: SANS }}
          axisLine={{ stroke: "#000", strokeWidth: 2.4 }}
          tickLine={{ stroke: "#000", strokeWidth: 2.4 }}
        />
        <Line dataKey="idl" name={seriesNames[0]} type="linear" stroke={seriesColors[0]} strokeWidth={LW} strokeLinejoin="round" dot={false} activeDot={false} isAnimationActive={false} />
        <Line dataKey="py" name={seriesNames[1]} type="linear" stroke={seriesColors[1]} strokeWidth={LW} strokeLinejoin="round" dot={false} activeDot={false} isAnimationActive={false} />
        <ReferenceArea x1={xDomain[0]} x2={xDomain[1]} y1={yDomain[0]} y2={yDomain[1]} fill="none" stroke="#000" strokeWidth={2.4} ifOverflow="visible" />
        <Legend
          layout="horizontal"
          verticalAlign="middle"
          align="center"
          content={() => <LegendBox />}
          wrapperStyle={{ position: "absolute", left: 1620, top: 37, width: 343, height: 113 }}
        />
        <Customized component={Titles} />
      </LineChart>
    </div>
  );
}
